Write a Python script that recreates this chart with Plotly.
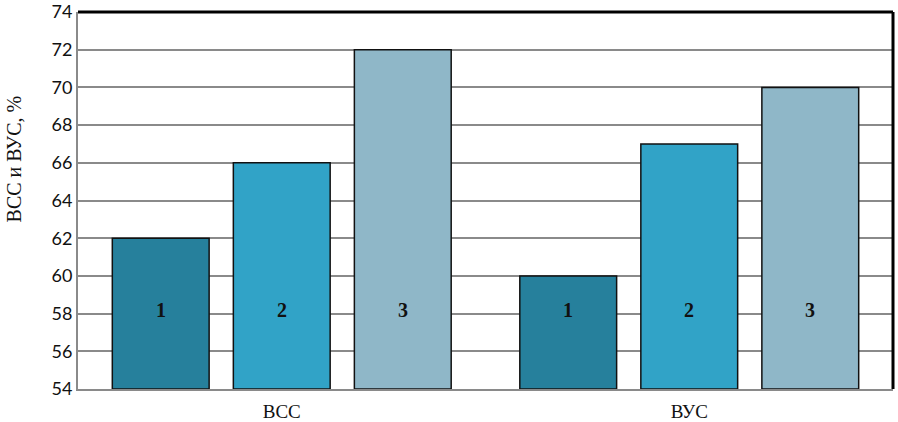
import plotly.graph_objects as go

categories = ['ВСС', 'ВУС']
series_names = ['1', '2', '3']
values_1 = [62, 60]
values_2 = [66, 67]
values_3 = [72, 70]
y_ticks = [54, 56, 58, 60, 62, 64, 66, 68, 70, 72, 74]
y_min, y_max = 54, 74

colors = ['#26809c', '#31a3c7', '#8fb7c8']
serif = 'Liberation Serif'

fig = go.Figure()
for name, vals, col in zip(series_names, [values_1, values_2, values_3], colors):
    # bars are drawn from the bottom of the axis (54) up to the value
    fig.add_trace(go.Bar(
        x=categories, y=[v - y_min for v in vals], base=y_min, name=name,
        marker=dict(color=col, line=dict(color='#111111', width=1.5)),
    ))

# series numbers written inside the bars
bargap = 0.109
slot = (1 - bargap) / 3
for gi, cat in enumerate(categories):
    for si, name in enumerate(series_names):
        fig.add_annotation(
            x=gi + (si - 1) * slot, y=58.2, xref='x', yref='y',
            text='<b>' + name + '</b>', showarrow=False,
            font=dict(family=serif, size=20, color='#111111'),
        )

# y axis title, placed a bit above the middle as in the original
fig.add_annotation(
    x=-0.078, y=0.61, xref='paper', yref='paper', textangle=-90,
    xanchor='center', yanchor='middle',
    text='ВСС и ВУС, %', showarrow=False,
    font=dict(family=serif, size=20, color='#111111'),
)

fig.update_layout(
    width=898, height=422,
    margin=dict(l=78, r=5, t=12, b=33),
    barmode='group', bargap=bargap, bargroupgap=0.2,
    showlegend=False,
    paper_bgcolor='white', plot_bgcolor='white',
    font=dict(family=serif, color='#111111'),
)
fig.update_yaxes(
    range=[y_min, y_max], tickvals=y_ticks, automargin=False,
    showgrid=True, gridcolor='#8a8a8a', gridwidth=1.5,
    showline=True, linecolor='#8a8a8a', linewidth=2,
    ticks='', ticklabeloverflow='allow',
    tickfont=dict(family='Lato', size=18, color='#111111'),
)
fig.update_xaxes(
    showline=True, linecolor='#8a8a8a', linewidth=2, automargin=False,
    tickfont=dict(family=serif, size=19, color='#111111'),
    ticks='outside', ticklen=4, tickcolor='white',
)
# dark frame on top and right
fig.add_shape(type='line', xref='paper', yref='paper', x0=0, x1=1, y0=1, y1=1,
              line=dict(color='#000000', width=3))
fig.add_shape(type='line', xref='paper', yref='paper', x0=1, x1=1, y0=0, y1=1,
              line=dict(color='#000000', width=3))

fig.write_html('out.html', config={'displayModeBar': False},
               post_script="document.body.style.margin='0';")
